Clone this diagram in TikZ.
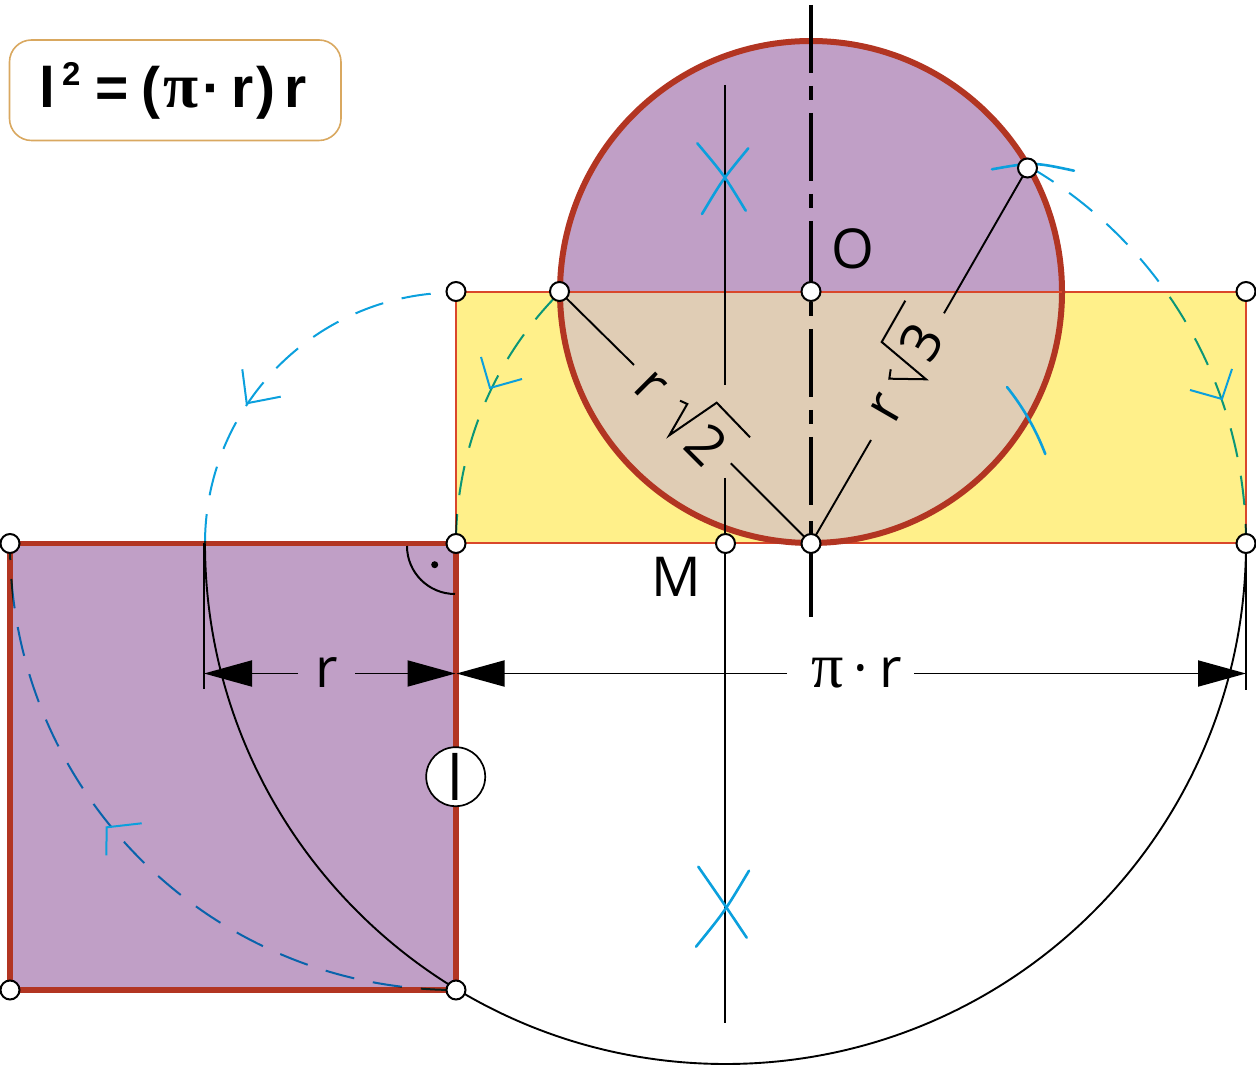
\documentclass[tikz,border=0pt]{standalone}
\usepackage{fontspec}
\usetikzlibrary{arrows.meta}
\setmainfont{Open Sans}
\newfontfamily\formfont{Liberation Sans}
\newfontfamily\pifont{Liberation Serif}
\definecolor{plum}{HTML}{C09FC6}
\definecolor{sand}{HTML}{FFF08A}
\definecolor{beige}{HTML}{E0CDB5}
\definecolor{brick}{HTML}{B23522}
\definecolor{thinred}{HTML}{D9472B}
\definecolor{sky}{HTML}{0BA0DD}
\definecolor{boxline}{HTML}{D9A860}
\tikzset{
  x=1pt,y=1pt,
  pin/.style={circle,draw=black,fill=white,line width=2pt,minimum size=19pt,inner sep=0pt},
  thinblack/.style={draw=black,line width=1.9pt},
  ticks/.style={draw=sky,line width=2pt},
  crossmark/.style={draw=sky,line width=2.6pt,line cap=round},
  dasharc/.style={draw=sky,line width=2pt,blend mode=multiply,dash pattern=on 29.5pt off 19pt},
  dimarrow/.style={thinblack,-{Triangle[length=48pt,width=26pt]}},
  lab/.style={inner sep=0pt,font=\fontsize{55}{60}\selectfont},
}
\begin{document}
\begin{tikzpicture}
\useasboundingbox (0,0) rectangle (1256,1066);
% key points
\coordinate (C) at (811,774);
\coordinate (TT) at (811,522.5);
\coordinate (MM) at (725.5,522.5);
\coordinate (RA) at (456,522.5);
% filled areas
\fill[sand] (456,774) rectangle (1246,523);
\draw[thinred,line width=1.7pt] (456,774) rectangle (1246,523);
\fill[plum] (C) ++(-251,0) arc[start angle=180,end angle=0,radius=251] -- cycle;
\fill[beige] (C) ++(-251,0) arc[start angle=180,end angle=360,radius=251] -- cycle;
\draw[brick,line width=6pt] (C) circle[radius=251];
\draw[thinred,line width=1.7pt] (559.5,774) -- (1062,774);
\draw[brick,line width=5.5pt,fill=plum] (10,522.5) rectangle (456,76);
% formula box
\draw[boxline,line width=1.6pt,fill=white,rounded corners=22pt] (9.5,1026) rectangle (341,925.5);
\node[anchor=base west,inner sep=0pt,font=\formfont\bfseries\fontsize{57}{60}\selectfont] (formula) at (39,958)
  {l\hspace{7pt}\raisebox{22pt}{\fontsize{33}{33}\selectfont 2}\hspace{15pt}=\hspace{13pt}(\hspace{3pt}{\pifont\fontsize{64}{60}\selectfont π}\hspace{4pt}·\hspace{10pt}r\hspace{3pt})\hspace{9pt}r};
% construction lines
\draw[thinblack] (725.3,981) -- (725.3,681);
\draw[thinblack] (725.3,588) -- (725.3,43);
\draw[thinblack] (1246,522.5) arc[start angle=0,end angle=-180,radius=520.5];
\draw[thinblack] (204,522.5) -- (204,377);
\draw[thinblack] (1246,522.5) -- (1246,376);
% centre line
\draw[black,line width=3.4pt,dash pattern=on 68pt off 13pt on 14pt off 13pt] (811,1061) -- (811,558);
\draw[black,line width=3.4pt] (811,545) -- (811,449);
% radii with radical signs
\coordinate (P) at (559.5,774.5);
\coordinate (Q) at (1027.5,898);
\coordinate (T) at (811,522.5);
\coordinate (Pa) at (634,701);
\coordinate (Ta) at (730.7,602.7);
\coordinate (Tb) at (871,626);
\coordinate (Qa) at (944,752.7);
\draw[thinblack] (P) -- (Pa);
\draw[thinblack] (Ta) -- (T);
\draw[thinblack] (T) -- (Tb);
\draw[thinblack] (Qa) -- (Q);
\draw[draw=black,line width=2pt,line join=miter] (680,665.3) -- (687.3,662) -- (669.3,630.7) -- (716.7,663.3) -- (750,628.7);
\draw[draw=black,line width=2pt,line join=miter] (890.7,696.7) -- (889.3,687.3) -- (926,686.7) -- (881.7,724) -- (905.3,765.3);
\node[lab,rotate=-45] (r2) at (650,679.3) {r};
\node[lab,rotate=-45] (two) at (706.7,621) {2};
\node[lab,rotate=60] (r3) at (886.7,657.7) {r};
\node[lab,rotate=60] (three) at (921.7,724.3) {3};
% dashed rotation arcs
\draw[dasharc] (1028.5,899.7) arc[start angle=60,end angle=0,radius=435];
\draw[dasharc] (456,522.5) arc[start angle=180,end angle=135,radius=355.5];
\draw[dasharc] (205,522.5) arc[start angle=180,end angle=90,radius=251];
\draw[dasharc,dash phase=13.5pt] (10,522) arc[start angle=180,end angle=270,radius=446];
% open arrowheads on the arcs
\draw[ticks] (1232,697) -- (1222,667) -- (1190,676);
\draw[ticks] (481,709) -- (490,678) -- (522,687);
\draw[ticks] (242.3,696.7) -- (246.7,662.7) -- (280.7,669.3);
\draw[ticks] (141.7,242.7) -- (106.7,238.7) -- (106.3,210.7);
% blue construction marks
\draw[crossmark] (697.3,922.7) .. controls (724,891) .. (745.7,855.3);
\draw[crossmark] (748.3,917.7) .. controls (722.7,886.6) .. (702,852);
\draw[crossmark] (698.3,199.3) .. controls (724.5,161.5) .. (746.7,128.3);
\draw[crossmark] (749,195.3) .. controls (725,155) .. (696,119.3);
\draw[crossmark] (992,896.7) .. controls (1033,904) .. (1074,895.3);
\draw[crossmark] (T) ++(38.6:250.8) arc[start angle=38.6,end angle=20.9,radius=250.8];
% dimensions
\coordinate (dL) at (204,392.5);
\coordinate (dLa) at (298,392.5);
\coordinate (dLb) at (355,392.5);
\coordinate (dM) at (455.5,392.5);
\coordinate (dMr) at (456.5,392.5);
\coordinate (dRa) at (787,392.5);
\coordinate (dRb) at (914,392.5);
\coordinate (dR) at (1246,392.5);
\draw[dimarrow] (dLa) -- (dL);
\draw[dimarrow] (dLb) -- (dM);
\draw[dimarrow] (dRa) -- (dMr);
\draw[dimarrow] (dRb) -- (dR);
\node[lab] (rlabel) at (326.5,393) {r};
\node[lab] (pilabel) at (857,393) {{\pifont\fontsize{64}{60}\selectfont π}\hspace{9pt}·\hspace{12pt}r};
\node[lab] (Olabel) at (852.7,817) {O};
\node[lab] (Mlabel) at (676.7,489.3) {M};
% right angle
\draw[draw=black,line width=2pt] (407,520) arc[start angle=180,end angle=270,radius=48];
\fill[black] (434.7,501.3) circle[radius=3.5];
% length l marker
\node[circle,draw=black,fill=white,line width=1.7pt,minimum size=59pt,inner sep=0pt,font=\fontsize{62}{62}\selectfont] (ell) at (455.7,289.3) {l};
% pins
\node[pin] (n1) at (456,774.5) {};
\node[pin] (n2) at (559.5,774.5) {};
\node[pin] (n3) at (811,774.5) {};
\node[pin] (n4) at (1246,774.5) {};
\node[pin] (n5) at (1027.5,898) {};
\node[pin] (n6) at (456,522.5) {};
\node[pin] (n7) at (725.5,522.5) {};
\node[pin] (n8) at (811,522.5) {};
\node[pin] (n9) at (1246,522.5) {};
\node[pin] (n10) at (10,522.5) {};
\node[pin] (n11) at (10,76) {};
\node[pin] (n12) at (456,76) {};
\end{tikzpicture}
\end{document}
